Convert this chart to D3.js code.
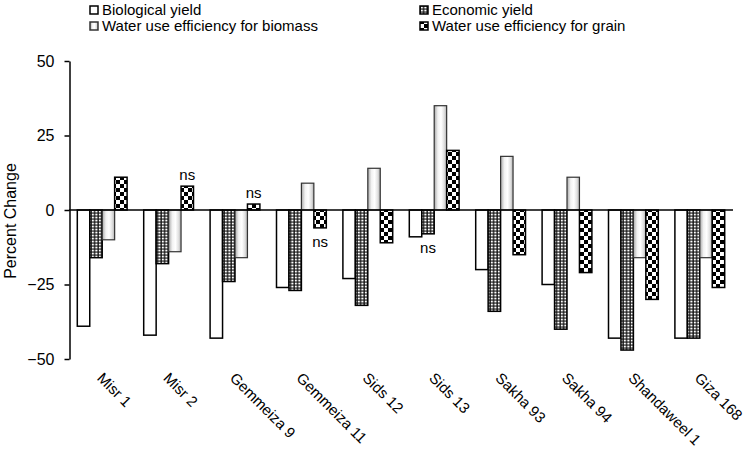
<!DOCTYPE html>
<html><head><meta charset="utf-8">
<script src="https://cdn.jsdelivr.net/npm/d3@7"></script>
<style>
body{margin:0;background:#fff}
svg{display:block}
text{font-family:"Liberation Sans",Arial,Helvetica,sans-serif;fill:#000}
</style>
</head><body><svg id="c" width="751" height="452"></svg>
<script>
const categories = ["Misr 1","Misr 2","Gemmeiza 9","Gemmeiza 11","Sids 12","Sids 13","Sakha 93","Sakha 94","Shandaweel 1","Giza 168"];
const seriesNames = ["Biological yield","Economic yield","Water use efficiency for biomass","Water use efficiency for grain"];
const biologicalYield = [-39,-42,-43,-26,-23,-9,-20,-25,-43,-43];
const economicYield   = [-16,-18,-24,-27,-32,-8,-34,-40,-47,-43];
const wueBiomass      = [-10,-14,-16,9,14,35,18,11,-16,-16];
const wueGrain        = [11,8,2,-6,-11,20,-15,-21,-30,-26];
const yTicks = [-50,-25,0,25,50];
const nsMarks = [
  {category:"Misr 2", series:"Water use efficiency for grain"},
  {category:"Gemmeiza 9", series:"Water use efficiency for grain"},
  {category:"Gemmeiza 11", series:"Water use efficiency for grain"},
  {category:"Sids 13", series:"Economic yield"}
];

const seriesValues = [biologicalYield, economicYield, wueBiomass, wueGrain];
const rows = [];
categories.forEach((c,i)=>seriesNames.forEach((s,j)=>rows.push({category:c, series:s, value:seriesValues[j][i]})));

const svg = d3.select("#c");
const defs = svg.append("defs");

// patterns
const pe = defs.append("pattern").attr("id","pEcon").attr("patternUnits","userSpaceOnUse")
  .attr("width",3.5).attr("height",3);
pe.append("rect").attr("width",3.5).attr("height",3).attr("fill","#111");
pe.append("rect").attr("x",0.8).attr("y",0.6).attr("width",2.2).attr("height",1.9).attr("fill","#fff");

const pg = defs.append("pattern").attr("id","pGrain").attr("patternUnits","userSpaceOnUse")
  .attr("width",8).attr("height",8);
pg.append("rect").attr("width",8).attr("height",8).attr("fill","#fff");
pg.append("rect").attr("width",4).attr("height",4).attr("fill","#000");
pg.append("rect").attr("x",4).attr("y",4).attr("width",4).attr("height",4).attr("fill","#000");

const gb = defs.append("linearGradient").attr("id","gBio").attr("x1",0).attr("x2",1).attr("y1",0).attr("y2",0);
[[0,"#a8a8a8"],[0.3,"#f2f2f2"],[0.55,"#ffffff"],[0.8,"#e0e0e0"],[1,"#b0b0b0"]]
  .forEach(([o,c])=>gb.append("stop").attr("offset",o).attr("stop-color",c));

const fills = {
  "Biological yield":"#fff",
  "Economic yield":"url(#pEcon)",
  "Water use efficiency for biomass":"url(#gBio)",
  "Water use efficiency for grain":"url(#pGrain)"
};
const strokes = {
  "Biological yield":"#000",
  "Economic yield":"#000",
  "Water use efficiency for biomass":"#333",
  "Water use efficiency for grain":"#000"
};

const x0 = d3.scaleBand().domain(categories).range([69,733]).paddingInner(0.25).paddingOuter(0.125);
const x1 = d3.scaleBand().domain(seriesNames).range([0,x0.bandwidth()]);
const y = d3.scaleLinear().domain([-50,50]).range([359,61]);

// bars
svg.append("g").selectAll("rect").data(rows).join("rect")
  .attr("x",d=>x0(d.category)+x1(d.series))
  .attr("width",x1.bandwidth())
  .attr("y",d=>Math.min(y(d.value),y(0)))
  .attr("height",d=>Math.abs(y(d.value)-y(0)))
  .attr("fill",d=>fills[d.series])
  .attr("stroke",d=>strokes[d.series])
  .attr("stroke-width",d=>d.series==="Water use efficiency for biomass"?1.2:1.5);

// ns labels
svg.append("g").selectAll("text").data(nsMarks).join("text")
  .attr("x",d=>x0(d.category)+x1(d.series)+x1.bandwidth()/2)
  .attr("y",d=>{
    const v = seriesValues[seriesNames.indexOf(d.series)][categories.indexOf(d.category)];
    return v>=0 ? y(v)-6 : y(v)+19;
  })
  .attr("text-anchor","middle").attr("font-size",15).text("ns");

// y axis
const ya = svg.append("g").attr("transform","translate(69.5,0)")
  .call(d3.axisLeft(y).tickValues(yTicks).tickSize(5).tickSizeOuter(0).tickPadding(10));
ya.selectAll("path,line").attr("stroke","#000").attr("stroke-width",1.5);
ya.selectAll("text").attr("font-size",16).attr("font-family",null).attr("fill","#000");

// zero line
svg.append("line").attr("x1",69).attr("x2",733).attr("y1",y(0)).attr("y2",y(0))
  .attr("stroke","#000").attr("stroke-width",1.5);

// y title
svg.append("text").attr("transform","translate(16,221) rotate(-90)")
  .attr("text-anchor","middle").attr("font-size",16).text("Percent Change");

// category labels
svg.append("g").selectAll("text").data(categories).join("text")
  .attr("transform",d=>`translate(${x0(d)+x0.bandwidth()/2-6},379) rotate(45)`)
  .attr("font-size",15).text(d=>d);

// legend
const legPos = [[90,6],[420,6],[90,22],[420,22]];
const lg = svg.append("g");
seriesNames.forEach((s,i)=>{
  const [lx,ly] = legPos[i];
  lg.append("rect").attr("x",lx).attr("y",ly).attr("width",8).attr("height",8)
    .attr("fill",fills[s]).attr("stroke",strokes[s]).attr("stroke-width",1.5);
  lg.append("text").attr("x",lx+12).attr("y",ly+9).attr("font-size",15).text(s);
});
</script>
</body></html>
